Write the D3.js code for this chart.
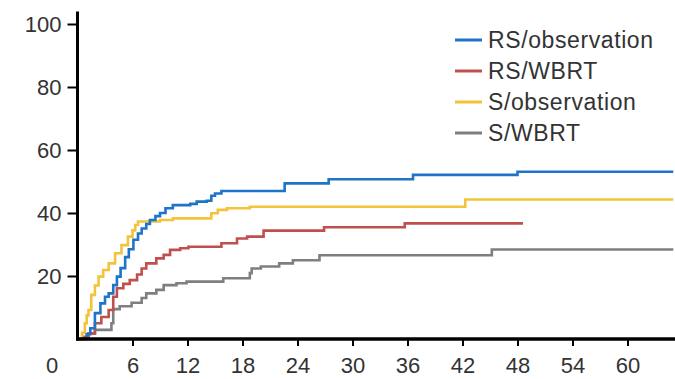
<!DOCTYPE html>
<html>
<head>
<meta charset="utf-8">
<script src="https://cdn.jsdelivr.net/npm/d3@7"></script>
<style>
  body { margin: 0; background: #fff; }
  text { font-family: "Liberation Sans", Arial, sans-serif; fill: #333; }
</style>
</head>
<body>
<div id="chart"></div>
<script>
var width = 675,
    height = 379;

// months
var xTicks = [6, 12, 18, 24, 30, 36, 42, 48, 54, 60];
var yTicks = [20, 40, 60, 80, 100];

var seriesNames = ["RS/observation", "RS/WBRT", "S/observation", "S/WBRT"];
var seriesColors = ["#1f74c9", "#c0504d", "#f3c33a", "#7f7f7f"];

// step curves, time (months) and cumulative %
var rsObsT = [0, 1.0, 1.4, 1.9, 2.5, 3.0, 3.4, 3.9, 4.3, 4.7, 5.2, 5.6, 6.1, 6.6, 7.0, 7.5, 7.9, 8.5, 9.0, 9.6, 10.4, 12.3, 13.0, 14.1, 14.6, 15.0, 15.7, 22.6, 27.4, 36.6, 48.0, 65];
var rsObsV = [0, 1.5, 3.4, 8.2, 11.3, 13.4, 14.5, 17.1, 19.8, 22.5, 26, 28.5, 31.5, 33.5, 35.1, 36.5, 37.8, 39.0, 40.0, 41.5, 42.5, 42.9, 43.6, 43.9, 45.5, 46.2, 47.0, 49.4, 50.7, 52.1, 53.1, 53.1];

var rsWbrtT = [0, 0.6, 1.2, 1.9, 2.6, 3.4, 3.9, 4.3, 5.0, 5.7, 6.5, 7.0, 7.5, 8.6, 9.4, 10.1, 11.2, 12.1, 15.7, 17.4, 18.5, 20.3, 26.9, 35.7, 48.6];
var rsWbrtV = [0, 0.7, 1.8, 5, 7, 9.2, 13.4, 16.1, 17.5, 18.7, 20.5, 22.4, 24, 25.6, 26.7, 28.3, 28.8, 29.3, 30.4, 31.9, 32.5, 34.4, 35.5, 36.7, 36.7];

var sObsT = [0, 0.5, 0.8, 1.0, 1.2, 1.5, 1.9, 2.3, 2.8, 3.4, 4.1, 4.8, 5.5, 6.0, 6.3, 6.6, 9.0, 10.4, 14.6, 15.3, 16.3, 18.8, 42.3, 65];
var sObsV = [0, 2, 5, 7.5, 9.2, 14, 17, 19.8, 21.9, 24, 27.2, 29.8, 32.5, 34.5, 36.2, 37.3, 37.8, 38.3, 39.9, 41, 41.5, 42, 44.3, 44.3];

var sWbrtT = [0, 1.2, 1.9, 3.7, 3.9, 4.6, 5.9, 7.0, 7.5, 8.6, 9.4, 10.8, 11.9, 15.9, 18.8, 19.0, 20.0, 22.0, 23.5, 26.4, 45.2, 65];
var sWbrtV = [0, 1.8, 2.9, 5, 9.5, 10.4, 11.5, 13, 14.5, 15.6, 17.1, 17.7, 18.2, 19.3, 20.9, 22.4, 23, 24, 25, 26.6, 28.4, 28.4];

var seriesT = [rsObsT, rsWbrtT, sObsT, sWbrtT];
var seriesV = [rsObsV, rsWbrtV, sObsV, sWbrtV];

var svg = d3.select("#chart").append("svg")
    .attr("width", width)
    .attr("height", height);

var x = d3.scaleLinear().domain([0, 60]).range([77.5, 627.5]);
var y = d3.scaleLinear().domain([0, 100]).range([339, 24]);

var line = d3.line()
    .curve(d3.curveStepAfter)
    .x(function(d) { return x(d[0]); })
    .y(function(d) { return y(d[1]); });

// curves, gray first so the coloured ones sit on top
var order = [3, 1, 2, 0];
order.forEach(function(i) {
    var pts = seriesT[i].map(function(t, j) { return [t, seriesV[i][j]]; });
    svg.append("path")
        .datum(pts)
        .attr("d", line)
        .attr("fill", "none")
        .attr("stroke", seriesColors[i])
        .attr("stroke-width", 2.6);
});

// axes
var xAxis = svg.append("g")
    .attr("transform", "translate(0," + y(0) + ")")
    .call(d3.axisBottom(x).tickValues(xTicks).tickSize(7).tickSizeOuter(0).tickPadding(11));
xAxis.select(".domain").remove();
xAxis.append("line")
    .attr("x1", x(0) - 1.5).attr("x2", width)
    .attr("stroke", "#000").attr("stroke-width", 3.5);
xAxis.selectAll(".tick line").attr("stroke", "#000").attr("stroke-width", 2);
xAxis.selectAll(".tick text").attr("font-size", 22).attr("fill", "#333");

var yAxis = svg.append("g")
    .attr("transform", "translate(" + x(0) + ",0)")
    .call(d3.axisLeft(y).tickValues(yTicks).tickSize(10).tickSizeOuter(0).tickPadding(6));
yAxis.select(".domain").remove();
yAxis.append("line")
    .attr("y1", y(0) + 1.5).attr("y2", y(104))
    .attr("stroke", "#000").attr("stroke-width", 3);
yAxis.selectAll(".tick line").attr("stroke", "#000").attr("stroke-width", 2);
yAxis.selectAll(".tick text").attr("font-size", 22).attr("fill", "#333");

// shared origin label
svg.append("text")
    .attr("x", 52)
    .attr("y", y(0) + 34)
    .attr("text-anchor", "middle")
    .attr("font-size", 22)
    .text("0");

// legend
var legend = svg.append("g").attr("transform", "translate(455,40)");
seriesNames.forEach(function(name, i) {
    var row = legend.append("g").attr("transform", "translate(0," + i * 31 + ")");
    row.append("line")
        .attr("x1", 0).attr("x2", 27)
        .attr("stroke", seriesColors[i])
        .attr("stroke-width", 3);
    row.append("text")
        .attr("x", 33)
        .attr("dy", "0.35em")
        .attr("font-size", 23)
        .attr("letter-spacing", 0.6)
        .text(name);
});
</script>
</body>
</html>
